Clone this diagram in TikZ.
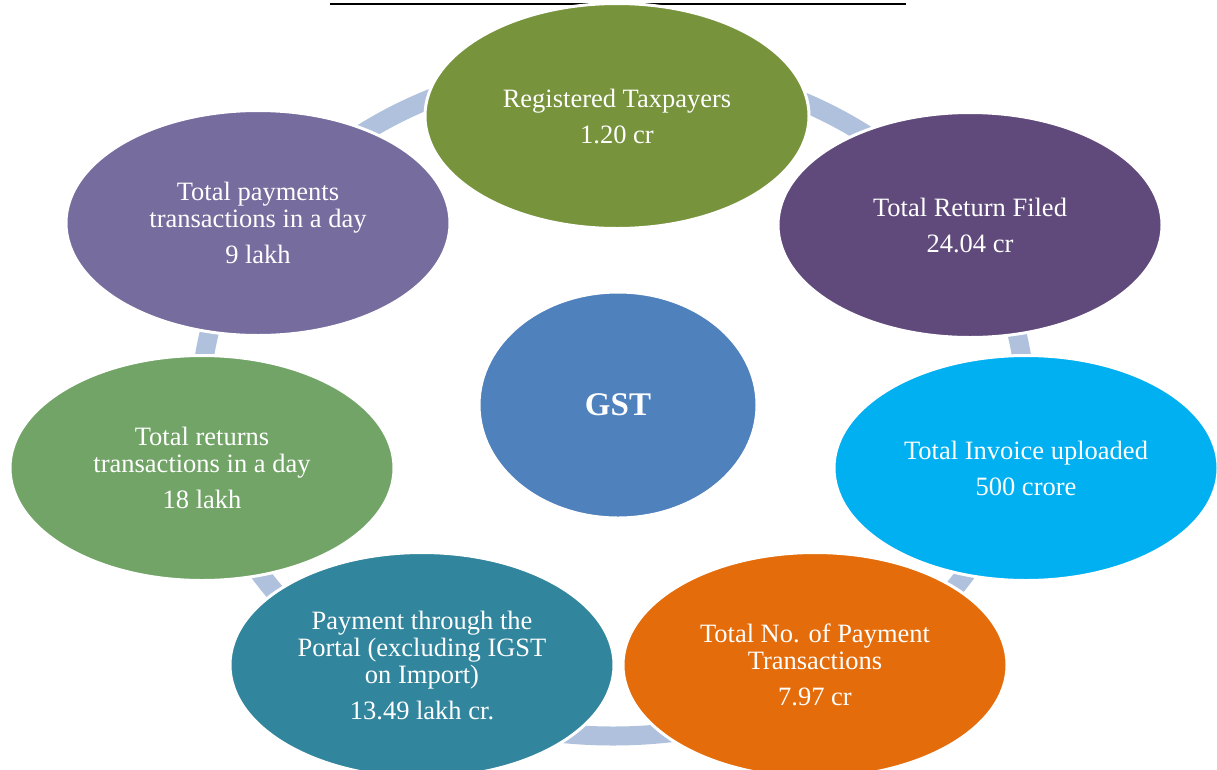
\documentclass[tikz,border=0pt]{standalone}
\usepackage{fontspec}
\setmainfont{Liberation Serif}
\usetikzlibrary{shapes.geometric}
\definecolor{ringc}{RGB}{176,193,222}
\definecolor{cA}{RGB}{119,147,60}
\definecolor{cB}{RGB}{96,74,123}
\definecolor{cC}{RGB}{0,176,240}
\definecolor{cD}{RGB}{228,108,10}
\definecolor{cE}{RGB}{49,133,156}
\definecolor{cF}{RGB}{114,164,103}
\definecolor{cG}{RGB}{118,108,158}
\definecolor{cH}{RGB}{79,129,189}
\begin{document}
\begin{tikzpicture}[x=1pt,y=-1pt,
  bub/.style={ellipse, draw=white, line width=3, minimum width=384, minimum height=225, inner sep=0,
    text=white, align=center, font=\fontsize{26.5}{27}\selectfont},
  ringline/.style={draw=ringc, line width=19}]
\useasboundingbox (0,0) rectangle (1217,769);
\clip (0,0) rectangle (1217,769);
\fill[white] (0,0) rectangle (1217,769);
\draw[line width=2] (330,3.5) -- (906,3.5);
\draw[ringline] (613,400) ellipse [x radius=412, y radius=336];
\node[bub, fill=cA] (reg) at (617,116) {Registered Taxpayers\\[9pt]1.20 cr};
\node[bub, fill=cB] (ret) at (970,225) {Total Return Filed\\[9pt]24.04 cr};
\node[bub, fill=cC] (inv) at (1026,468) {Total Invoice uploaded\\[9pt]500 crore};
\node[bub, fill=cD] (pay) at (815,665) {Total No. of Payment\\Transactions\\[9pt]7.97 cr};
\node[bub, fill=cE] (por) at (422,665) {Payment through the\\Portal (excluding IGST\\on Import)\\[9pt]13.49 lakh cr.};
\node[bub, fill=cF] (rtd) at (202,468) {Total returns\\transactions in a day\\[9pt]18 lakh};
\node[bub, fill=cG] (ptd) at (258,223) {Total payments\\transactions in a day\\[9pt]9 lakh};
\node[ellipse, draw=white, line width=3, fill=cH, minimum width=278, minimum height=226, inner sep=0,
  text=white, font=\fontsize{33}{38}\selectfont\bfseries] (gst) at (618,405) {GST};
\end{tikzpicture}
\end{document}
